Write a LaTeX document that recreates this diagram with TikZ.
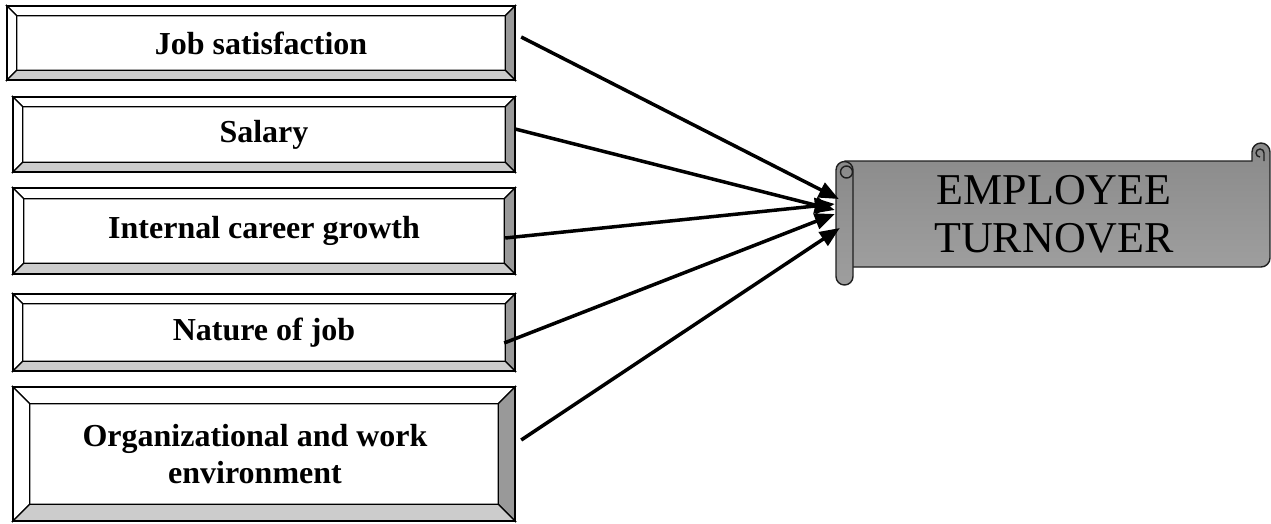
\documentclass[tikz,border=0pt]{standalone}
\usepackage{fontspec}
\setmainfont{Liberation Serif}
\usetikzlibrary{arrows.meta,calc}

\definecolor{bevelDark}{gray}{0.6}
\definecolor{bevelLight}{gray}{0.8}
\definecolor{scrollTop}{gray}{0.54}
\definecolor{scrollBottom}{gray}{0.62}
\definecolor{scrollLine}{gray}{0.12}

\tikzset{
  factor/.style={inner sep=0pt, align=center,
    font=\fontsize{32}{37}\selectfont\bfseries},
  outcome/.style={inner sep=0pt, align=center,
    minimum width=434pt, minimum height=142pt,
    font=\fontsize{44}{48}\selectfont},
  bevelface/.style={draw=black, line width=1.3pt},
  bevelrim/.style={draw=black, line width=2.2pt},
  scrollface/.style={draw=scrollLine, line width=1.4pt,
    top color=scrollTop, bottom color=scrollBottom},
  scrollcurl/.style={draw=scrollLine, line width=1.4pt},
  link/.style={line width=3.5pt, -{Triangle[length=20pt,width=16pt]}},
}

% Raised frame around a factor node: #1 node name, #2 bevel depth
\newcommand\bevelframe[2]{%
  \coordinate (o1) at (#1.north west);
  \coordinate (o2) at (#1.north east);
  \coordinate (o3) at (#1.south east);
  \coordinate (o4) at (#1.south west);
  \coordinate (i1) at ($(o1)+(#2,#2)$);
  \coordinate (i2) at ($(o2)+(-#2,#2)$);
  \coordinate (i3) at ($(o3)+(-#2,-#2)$);
  \coordinate (i4) at ($(o4)+(#2,-#2)$);
  \path[bevelface, fill=white] (o1) -- (o2) -- (i2) -- (i1) -- cycle;
  \path[bevelface, fill=white] (o4) -- (o1) -- (i1) -- (i4) -- cycle;
  \path[bevelface, fill=bevelDark] (o2) -- (o3) -- (i3) -- (i2) -- cycle;
  \path[bevelface, fill=bevelLight] (o3) -- (o4) -- (i4) -- (i3) -- cycle;
  \path[bevelrim] (o1) rectangle (o3);
}

\begin{document}
\begin{tikzpicture}[x=1pt, y=-1pt]
\useasboundingbox (0,0) rectangle (1271,523);

% factor boxes
\node[factor, minimum width=508pt, minimum height=74pt] (b1) at (261,43) {Job satisfaction};
\node[factor, minimum width=502pt, minimum height=75pt] (b2) at (264,134.5) {Salary};
\node[factor, minimum width=502pt, minimum height=86pt] (b3) at (264,231) {Internal career growth};
\node[factor, minimum width=502pt, minimum height=77pt] (b4) at (264,332.5) {Nature of job};
\node[factor, minimum width=502pt, minimum height=134pt] (b5) at (264,454)
  {Organizational and work\hspace*{18pt}\\environment\hspace*{18pt}};

\bevelframe{b1}{10}
\bevelframe{b2}{10}
\bevelframe{b3}{11}
\bevelframe{b4}{10}
\bevelframe{b5}{17}

% scroll: body with the upper right roll
\path[scrollface] (845,161) -- (1252,161) -- (1252,152)
  arc[start angle=180, end angle=360, radius=9] -- (1270,258)
  arc[start angle=0, end angle=90, radius=9] -- (845,267) -- cycle;
\path[scrollcurl] (1264,161) -- (1264,153)
  arc[start angle=0, end angle=-270, radius=4];
% scroll: left roll
\path[scrollface] (836,170) arc[start angle=180, end angle=360, radius=8.5]
  -- (853,276.5) arc[start angle=0, end angle=180, radius=8.5] -- cycle;
\path[scrollcurl] (846.5,172) circle[radius=6];

\node[outcome] (eto) at (1054,214) {EMPLOYEE\\TURNOVER};

% influences
\draw[link] ($(b1.east)+(6,-6)$) -- ($(eto.west)+(2,-15)$);
\draw[link] ($(b2.east)+(0,-5.5)$) -- ($(eto.west)+(-2,-4)$);
\draw[link] ($(b3.east)+(-10,7)$) -- ($(eto.west)+(-2,-10)$);
\draw[link] ($(b4.east)+(-11,10.5)$) -- ($(eto.west)+(-2,0)$);
\draw[link] ($(b5.east)+(6,-14)$) -- ($(eto.west)+(3,14)$);
\end{tikzpicture}
\end{document}
